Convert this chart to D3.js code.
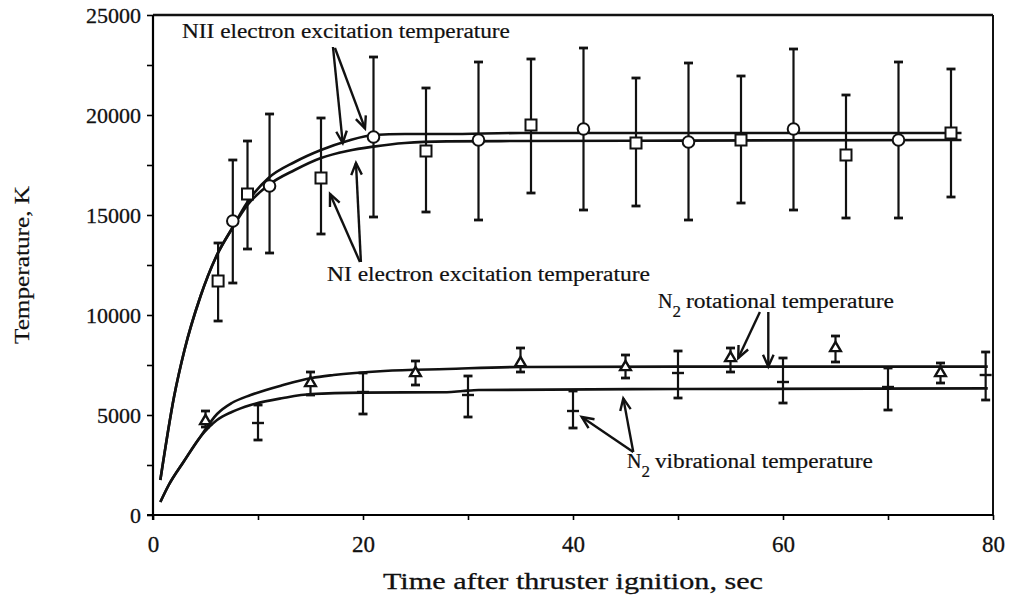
<!DOCTYPE html>
<html><head><meta charset="utf-8">
<script src="https://cdn.jsdelivr.net/npm/d3@7"></script>
<style>
html,body{margin:0;padding:0;background:#fff;}
svg text{font-family:"Liberation Serif","Times New Roman",serif !important;fill:#111;}
</style></head>
<body>
<svg id="chart" width="1010" height="613"></svg>
<script>
// ---- data ----
const xTicksLabel = [0, 20, 40, 60, 80];
const yTicksLabel = [0, 5000, 10000, 15000, 20000, 25000];

// NII electron excitation temperature (circles)
const niiT  = [7.6, 11.1, 21, 31, 41, 51, 61, 71];
const niiV  = [14700, 16450, 18900, 18750, 19300, 18650, 19300, 18750];
const niiHi = [17750, 20050, 22900, 22650, 23350, 22600, 23300, 22650];
const niiLo = [11600, 13100, 14900, 14750, 15250, 14750, 15250, 14850];

// NI electron excitation temperature (squares)
const niT  = [6.2, 9.0, 16, 26, 36, 46, 56, 66, 76];
const niV  = [11700, 16050, 16850, 18200, 19500, 18600, 18750, 18000, 19100];
const niHi = [13600, 18700, 19850, 21350, 22800, 21850, 21950, 21000, 22300];
const niLo = [9700, 13300, 14050, 15150, 16100, 15450, 15600, 14850, 15900];

// N2 rotational temperature (triangles)
const rotT  = [5, 15, 25, 35, 45, 55, 65, 75];
const rotV  = [4700, 6600, 7100, 7600, 7400, 7850, 8350, 7100];
const rotHi = [5200, 7150, 7700, 8350, 8000, 8350, 8950, 7600];
const rotLo = [4400, 6000, 6500, 7150, 6850, 7150, 7650, 6600];

// N2 vibrational temperature (plus marks)
const vibT  = [10, 20, 30, 40, 50, 60, 70, 79.3];
const vibV  = [4600, 6150, 6000, 5200, 7100, 6650, 6400, 7000];
const vibHi = [5500, 7100, 6950, 6200, 8200, 7850, 7350, 8150];
const vibLo = [3750, 5050, 4900, 4350, 5850, 5600, 5250, 5750];

// fitted curves
const niiFitT = [0.7, 2, 3, 4.5, 6, 7.5, 9, 11, 13.5, 16, 18.5, 21, 24, 28, 35, 50, 77];
const niiFitV = [1750, 5900, 8250, 10900, 12900, 14300, 15650, 16850, 17650, 18250, 18700, 19000, 19050, 19050, 19100, 19100, 19100];
const niFitT  = [0.7, 2, 3, 4.5, 6, 7.5, 9, 11, 13.5, 16, 18.5, 21, 24, 28, 35, 50, 77];
const niFitV  = [1750, 5900, 8250, 10900, 12900, 14300, 15500, 16500, 17250, 17850, 18200, 18420, 18600, 18680, 18700, 18720, 18750];
const rotFitT = [0.7, 1.5, 2.9, 4.5, 6.1, 7.5, 9.3, 12.4, 15.1, 17.2, 22, 28, 35, 50, 79.5];
const rotFitV = [650, 1500, 2650, 3900, 5050, 5600, 6000, 6500, 6850, 7000, 7200, 7300, 7400, 7420, 7420];
const vibFitT = [0.7, 1.5, 2.9, 4.5, 6.1, 7.5, 9.3, 12.4, 15.1, 20, 28, 29.5, 31, 50, 79.5];
const vibFitV = [650, 1500, 2650, 3900, 4750, 5150, 5500, 5850, 6050, 6120, 6140, 6200, 6250, 6300, 6330];

// annotation labels: [text, t, value]
const labelNII = ["NII electron excitation temperature", 2.76, 23850];
const labelNI  = ["NI electron excitation temperature", 16.57, 11700];
const labelRot = ["rotational temperature", 48.1, 10350];
const labelVib = ["vibrational temperature", 45.14, 2350];
const arrowsNII = [[17.14, 23400, 18.07, 18600], [17.33, 23350, 20.19, 19330]];
const arrowsNI  = [[19.71, 12650, 16.86, 16050], [19.8, 12650, 19.33, 17600]];
const arrowsRot = [[57.8, 10150, 55.74, 7850], [58.6, 10150, 58.6, 7420]];
const arrowsVib = [[45.74, 3150, 40.83, 4900], [45.74, 3150, 44.79, 5830]];

// ---- drawing ----
const FONT = "Liberation Serif, Times New Roman, serif";
const svg = d3.select("#chart");
const x = d3.scaleLinear().domain([0, 80]).range([153, 993]);
const y = d3.scaleLinear().domain([0, 25000]).range([515, 15]);

// frame: top and right borders
svg.append("line").attr("x1", x(0)).attr("x2", x(80)).attr("y1", y(25000)).attr("y2", y(25000))
  .attr("stroke", "#111").attr("stroke-width", 2.4);
svg.append("line").attr("x1", x(80)).attr("x2", x(80)).attr("y1", y(25000)).attr("y2", y(0))
  .attr("stroke", "#111").attr("stroke-width", 2);

// axes
const yAxis = d3.axisLeft(y).tickValues(d3.range(0, 25001, 2500)).tickSize(6).tickPadding(6)
  .tickFormat(d => yTicksLabel.includes(d) ? d3.format("d")(d) : "");
const gy = svg.append("g").attr("transform", `translate(${x(0)},0)`).call(yAxis)
  .attr("font-family", FONT);
gy.select(".domain").attr("stroke-width", 2.2).attr("d", `M0,${y(25000)}V${y(0)+5}`);
gy.selectAll(".tick line").attr("stroke-width", 1.6);
gy.selectAll("text").style("font-size", "22px").attr("dy", "0.35em")
  .attr("stroke", "#111").attr("stroke-width", 0.3);

const xAxis = d3.axisBottom(x).tickValues(d3.range(0, 81, 10)).tickSize(5).tickPadding(16)
  .tickFormat(d => xTicksLabel.includes(d) ? d : "");
const gx = svg.append("g").attr("transform", `translate(0,${y(0)})`).call(xAxis)
  .attr("font-family", FONT);
gx.select(".domain").attr("stroke-width", 2.2).attr("d", `M${x(0)-6},0H${x(80)}`);
gx.selectAll(".tick line").attr("stroke-width", 1.6);
gx.selectAll("text").style("font-size", "23px")
  .attr("stroke", "#111").attr("stroke-width", 0.3);

// axis titles
svg.append("text").attr("x", (x(0)+x(80))/2 - 0).attr("y", 589).attr("text-anchor", "middle")
  .style("font-size", "24px").attr("textLength", 380).attr("lengthAdjust", "spacingAndGlyphs")
  .attr("stroke", "#111").attr("stroke-width", 0.3)
  .text("Time after thruster ignition, sec");
svg.append("text").attr("transform", `translate(29,265) rotate(-90)`).attr("text-anchor", "middle")
  .style("font-size", "22px").attr("textLength", 158).attr("lengthAdjust", "spacingAndGlyphs")
  .attr("stroke", "#111").attr("stroke-width", 0.2)
  .text("Temperature, K");

// curves
const line = d3.line().x(d => x(d[0])).y(d => y(d[1])).curve(d3.curveMonotoneX);
function fit(ts, vs) {
  svg.append("path").datum(ts.map((t, i) => [t, vs[i]])).attr("d", line)
    .attr("fill", "none").attr("stroke", "#111").attr("stroke-width", 2.6);
}
fit(niiFitT, niiFitV);
fit(niFitT, niFitV);
fit(rotFitT, rotFitV);
fit(vibFitT, vibFitV);

// error bars
function errbars(ts, hi, lo, cap) {
  const g = svg.append("g").attr("stroke", "#111").attr("stroke-width", 2.2);
  ts.forEach((t, i) => {
    g.append("line").attr("x1", x(t)).attr("x2", x(t)).attr("y1", y(hi[i])).attr("y2", y(lo[i]));
    g.append("line").attr("x1", x(t)-cap).attr("x2", x(t)+cap).attr("y1", y(hi[i])).attr("y2", y(hi[i])).attr("stroke-width", 2.8);
    g.append("line").attr("x1", x(t)-cap).attr("x2", x(t)+cap).attr("y1", y(lo[i])).attr("y2", y(lo[i])).attr("stroke-width", 2.8);
  });
}
errbars(niiT, niiHi, niiLo, 4.5);
errbars(niT, niHi, niLo, 4.5);
errbars(rotT, rotHi, rotLo, 4.5);
errbars(vibT, vibHi, vibLo, 4.5);

// markers
svg.append("g").selectAll("circle").data(niiT).join("circle")
  .attr("cx", d => x(d)).attr("cy", (d, i) => y(niiV[i])).attr("r", 5.8)
  .attr("fill", "#fff").attr("stroke", "#111").attr("stroke-width", 2);
svg.append("g").selectAll("rect").data(niT).join("rect")
  .attr("x", d => x(d) - 5.5).attr("y", (d, i) => y(niV[i]) - 5.5).attr("width", 11).attr("height", 11)
  .attr("fill", "#fff").attr("stroke", "#111").attr("stroke-width", 2);
svg.append("g").selectAll("path").data(rotT).join("path")
  .attr("transform", (d, i) => `translate(${x(d)},${y(rotV[i])})`)
  .attr("d", d3.symbol(d3.symbolTriangle, 50))
  .attr("fill", "#fff").attr("stroke", "#111").attr("stroke-width", 2.4);
svg.append("g").selectAll("line").data(vibT).join("line")
  .attr("x1", d => x(d) - 6).attr("x2", d => x(d) + 6)
  .attr("y1", (d, i) => y(vibV[i])).attr("y2", (d, i) => y(vibV[i]))
  .attr("stroke", "#111").attr("stroke-width", 2.4);

// annotations
function arrows(list) {
  const g = svg.append("g").attr("stroke", "#111").attr("stroke-width", 2.4).attr("fill", "none");
  list.forEach(a => {
    const x1 = x(a[0]), y1 = y(a[1]), x2 = x(a[2]), y2 = y(a[3]);
    g.append("line").attr("x1", x1).attr("y1", y1).attr("x2", x2).attr("y2", y2);
    const ang = Math.atan2(y2 - y1, x2 - x1), L = 13, w = 0.42;
    const p1 = [x2 - L*Math.cos(ang - w), y2 - L*Math.sin(ang - w)];
    const p2 = [x2 - L*Math.cos(ang + w), y2 - L*Math.sin(ang + w)];
    g.append("path").attr("d", `M${p1}L${x2},${y2}L${p2}`);
  });
}
arrows(arrowsNII); arrows(arrowsNI); arrows(arrowsRot); arrows(arrowsVib);

svg.append("text").attr("x", x(labelNII[1])).attr("y", y(labelNII[2]))
  .style("font-size", "20px").attr("textLength", 328).attr("lengthAdjust", "spacingAndGlyphs")
  .attr("stroke", "#111").attr("stroke-width", 0.2).text(labelNII[0]);
svg.append("text").attr("x", x(labelNI[1])).attr("y", y(labelNI[2]))
  .style("font-size", "20px").attr("textLength", 323).attr("lengthAdjust", "spacingAndGlyphs")
  .attr("stroke", "#111").attr("stroke-width", 0.2).text(labelNI[0]);

function n2label(lab, len) {
  const tx = svg.append("text").attr("x", x(lab[1])).attr("y", y(lab[2])).style("font-size", "20px")
    .attr("stroke", "#111").attr("stroke-width", 0.2);
  tx.append("tspan").text("N");
  tx.append("tspan").attr("dy", 9).style("font-size", "17px").text("2");
  tx.append("tspan").attr("dy", -9).attr("dx", 5).attr("textLength", len)
    .attr("lengthAdjust", "spacingAndGlyphs").text(lab[0]);
}
n2label(labelRot, 208);
n2label(labelVib, 218);
</script>
</body></html>
